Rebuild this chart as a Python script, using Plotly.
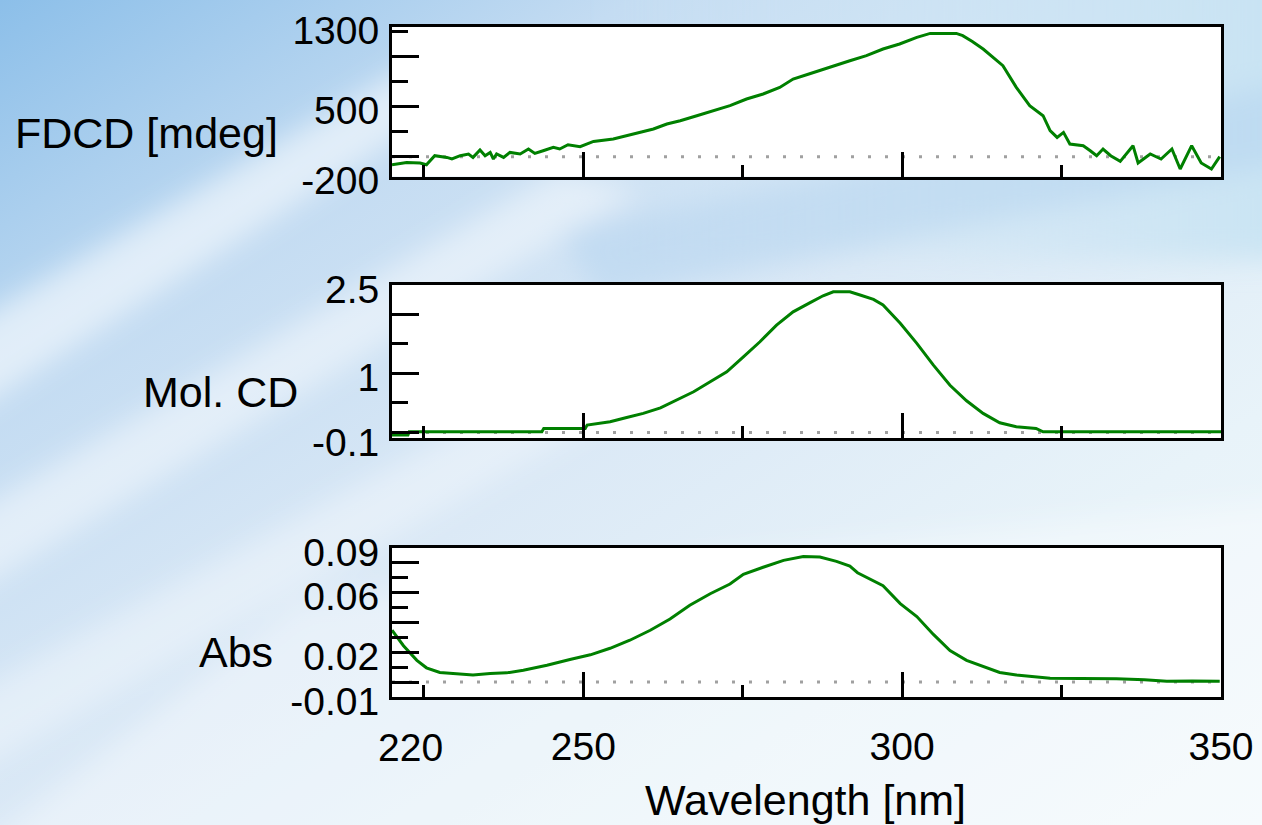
import base64
import plotly.graph_objects as go

# ---------------- data ----------------
fdcd_wl = [220.0, 222.3, 224.4, 225.4, 226.7, 228.6, 229.4, 230.7, 232.0, 232.7,
           233.8, 234.6, 235.4, 235.9, 236.4, 237.5, 238.5, 240.1, 241.4, 242.4,
           243.7, 245.3, 246.3, 247.6, 249.5, 251.6, 254.7, 256.8, 258.9, 261.0,
           263.1, 265.2, 267.8, 270.4, 273.0, 275.6, 278.2, 280.8, 282.9, 285.5,
           288.5, 291.8, 294.4, 297.0, 299.6, 302.3, 304.4, 306.5, 308.5, 309.5,
           311.0, 312.7, 314.3, 315.8, 317.9, 320.0, 322.1, 323.2, 324.3, 325.3,
           326.3, 328.4, 329.5, 330.5, 331.5, 332.7, 334.2, 335.2, 336.2, 337.0,
           338.9, 340.6, 342.3, 343.6, 345.4, 346.9, 348.5, 349.8]
fdcd_val = [-80, -57, -63, -80, 10, -7, -23, 10, 27, -7,
            67, 10, 43, -23, 27, -7, 43, 27, 77, 33,
            60, 93, 77, 120, 100, 153, 177, 210, 243, 277,
            327, 360, 410, 460, 510, 577, 627, 693, 777, 830,
            895, 960, 1010, 1077, 1127, 1193, 1233, 1233, 1233, 1210,
            1153, 1077, 993, 910, 693, 510, 410, 260, 193, 243,
            127, 110, 60, 10, 77, 10, -47, 27, 110, -63,
            27, -23, 77, -123, 110, -63, -123, 0]

cd_wl = [220.0, 222.5, 222.7, 243.5, 243.8, 250.3, 250.6, 254.2, 256.8, 259.4,
         262.1, 264.7, 267.3, 269.9, 272.5, 275.1, 277.7, 280.3, 282.9, 285.5,
         287.6, 289.2, 291.8, 293.4, 295.5, 297.0, 299.7, 302.3, 304.9, 307.5,
         310.1, 312.7, 315.3, 317.9, 321.0, 322.1, 350.0]
cd_val = [-0.046, -0.046, 0.01, 0.01, 0.068, 0.068, 0.124, 0.18, 0.254, 0.322,
          0.417, 0.548, 0.689, 0.858, 1.028, 1.282, 1.537, 1.82, 2.045, 2.198,
          2.317, 2.385, 2.385, 2.33, 2.255, 2.16, 1.85, 1.51, 1.14, 0.80,
          0.536, 0.322, 0.163, 0.095, 0.068, 0.01, 0.01]

abs_wl = [220.0, 221.8, 223.9, 225.4, 227.5, 230.0, 232.7, 235.4, 238.0, 240.6,
          244.3, 247.9, 251.1, 254.2, 257.3, 260.5, 263.6, 266.7, 269.9, 273.0,
          275.1, 278.2, 281.4, 284.5, 287.1, 289.7, 291.8, 293.0, 297.0, 299.7,
          302.3, 304.9, 307.5, 310.1, 312.7, 315.3, 317.9, 320.5, 323.2, 328.0,
          333.6, 338.0, 341.5, 345.5, 349.8]
abs_val = [0.0348, 0.0244, 0.0146, 0.0096, 0.0065, 0.0055, 0.0048, 0.0057, 0.0062, 0.0080,
           0.0113, 0.0152, 0.0183, 0.0227, 0.0281, 0.0348, 0.0423, 0.0516, 0.0593, 0.0658,
           0.0724, 0.0771, 0.0817, 0.0843, 0.0839, 0.0810, 0.0778, 0.0734, 0.0647, 0.0527,
           0.0440, 0.0320, 0.0211, 0.0146, 0.0103, 0.0065, 0.0048, 0.0035, 0.0026, 0.0024,
           0.0022, 0.0015, 0.0005, 0.0008, 0.0005]

x_range = [220, 350]
x_major = [250, 300]
x_minor = [225, 275, 325]
x_labels = ["220", "250", "300", "350"]

y1_range = [-200, 1300]
y1_major = [-200, 0, 500, 1000, 1300]
y1_text = ["-200", "", "500", "", "1300"]
y1_minor = [250, 750, 1250]

y2_range = [-0.1, 2.5]
y2_major = [-0.1, 0, 1, 2, 2.5]
y2_text = ["-0.1", "", "1", "", "2.5"]
y2_minor = [0.5, 1.5]

y3_range = [-0.01, 0.09]
y3_major = [-0.01, 0, 0.02, 0.04, 0.06, 0.08, 0.09]
y3_text = ["-0.01", "", "0.02", "", "0.06", "", "0.09"]
y3_minor = [0.01, 0.03, 0.05, 0.07]

titles = ["FDCD [mdeg]", "Mol. CD", "Abs"]
x_title = "Wavelength [nm]"

# ---------------- styling ----------------
W, H = 1262, 825
FONT = "Liberation Sans, Arial, sans-serif"
FS = 39
FS_T = 43
GREEN = "#008000"

xdom = [392 / W, 1221 / W]
ydoms = [[1 - 176.7 / H, 1 - 26.7 / H],
         [1 - 438.3 / H, 1 - 285.0 / H],
         [1 - 697.0 / H, 1 - 548.0 / H]]

bg_svg = """<svg xmlns="http://www.w3.org/2000/svg" width="1262" height="825" viewBox="0 0 1262 825" preserveAspectRatio="none">
<defs>
<linearGradient id="g" x1="0" y1="0" x2="1" y2="1">
<stop offset="0" stop-color="#8cbfe9"/>
<stop offset="0.25" stop-color="#c4dcf2"/>
<stop offset="0.5" stop-color="#dbe9f6"/>
<stop offset="0.75" stop-color="#e8f3f9"/>
<stop offset="1" stop-color="#f1f8fc"/>
</linearGradient>
<linearGradient id="t" x1="0" y1="0" x2="1" y2="0">
<stop offset="0" stop-color="#cfe6f5" stop-opacity="0"/>
<stop offset="1" stop-color="#c2e1f2" stop-opacity="0.8"/>
</linearGradient>
<filter id="b" x="-20%" y="-20%" width="140%" height="140%"><feGaussianBlur stdDeviation="14"/></filter>
</defs>
<rect width="1262" height="825" fill="url(#g)"/>
<g filter="url(#b)">
<rect x="600" y="-40" width="700" height="300" fill="url(#t)"/>
<polygon points="-40,330 420,60 520,60 -40,420" fill="white" opacity="0.55"/>
<polygon points="-40,520 560,170 640,190 -40,600" fill="white" opacity="0.45"/>
<polygon points="-40,700 700,300 760,330 -40,780" fill="white" opacity="0.35"/>
<polygon points="560,230 1300,80 1300,160 600,300" fill="#b4d4ef" opacity="0.5"/>
<polygon points="-40,865 300,600 1300,500 1300,865" fill="white" opacity="0.35"/>
</g>
</svg>"""
bg_uri = "data:image/svg+xml;base64," + base64.b64encode(bg_svg.encode()).decode()

fig = go.Figure()
for i, (xs, ys) in enumerate([(fdcd_wl, fdcd_val), (cd_wl, cd_val), (abs_wl, abs_val)]):
    sfx = "" if i == 0 else str(i + 1)
    fig.add_trace(go.Scatter(x=xs, y=ys, mode="lines", xaxis="x" + sfx, yaxis="y" + sfx,
                             line=dict(color=GREEN, width=3), showlegend=False,
                             hoverinfo="skip"))

def xaxis_cfg(anchor, labels):
    d = dict(anchor=anchor, domain=xdom, range=x_range, showline=True, mirror=True,
             linecolor="black", linewidth=3, ticks="inside", ticklen=25, tickwidth=3,
             tickcolor="black", showgrid=False, zeroline=False, automargin=False,
             minor=dict(tickvals=x_minor, ticks="inside", ticklen=12, tickwidth=3,
                        tickcolor="black", showgrid=False))
    if labels:
        d.update(tickvals=[220] + x_major + [350],
                 ticktext=[""] + x_labels[1:],
                 showticklabels=True, ticklabelstandoff=13,
                 tickfont=dict(family=FONT, size=FS, color="black"))
    else:
        d.update(tickvals=x_major, showticklabels=False)
    return d

def yaxis_cfg(anchor, dom, rng, major, text, minor):
    return dict(anchor=anchor, domain=dom, range=rng, showline=True, mirror=True,
                linecolor="black", linewidth=3, ticks="inside", ticklen=27, tickwidth=3,
                tickcolor="black", showgrid=False, zeroline=False, automargin=False,
                tickvals=major, ticktext=text, ticklabelstandoff=2, ticklabelshift=4,
                tickfont=dict(family=FONT, size=FS, color="black"),
                minor=dict(tickvals=minor, ticks="inside", ticklen=16, tickwidth=3,
                           tickcolor="black", showgrid=False))

shapes = []
for i in range(3):
    sfx = "" if i == 0 else str(i + 1)
    shapes.append(dict(type="rect", xref="x" + sfx + " domain", yref="y" + sfx + " domain",
                       x0=0, x1=1, y0=0, y1=1, fillcolor="white", line=dict(width=0),
                       layer="below"))
for i in range(3):
    sfx = "" if i == 0 else str(i + 1)
    shapes.append(dict(type="line", xref="x" + sfx + " domain", yref="y" + sfx,
                       x0=0, x1=1, y0=0, y1=0, layer="below",
                       line=dict(color="#a0a0a0", width=3, dash="3px,14px")))

annotations = [
    dict(text=titles[0], x=280 / W, y=1 - 133 / H, xanchor="right", yanchor="middle", size=FS_T),
    dict(text=titles[1], x=300 / W, y=1 - 392 / H, xanchor="right", yanchor="middle", size=FS_T),
    dict(text=titles[2], x=275 / W, y=1 - 652 / H, xanchor="right", yanchor="middle", size=FS_T),
    dict(text=x_labels[0], x=410 / W, y=1 - 747 / H, xanchor="center", yanchor="middle", size=FS),
    dict(text=x_title, x=806 / W, y=1 - 800 / H, xanchor="center", yanchor="middle", size=FS_T),
]
for a in annotations:
    sz = a.pop("size")
    a.update(xref="paper", yref="paper", showarrow=False,
             font=dict(family=FONT, size=sz, color="black"))

fig.update_layout(
    width=W, height=H, autosize=False,
    margin=dict(l=0, r=0, t=0, b=0, pad=0, autoexpand=False),
    paper_bgcolor="#dbe9f6", plot_bgcolor="white",
    xaxis=xaxis_cfg("y", False),
    xaxis2=xaxis_cfg("y2", False),
    xaxis3=xaxis_cfg("y3", True),
    yaxis=yaxis_cfg("x", ydoms[0], y1_range, y1_major, y1_text, y1_minor),
    yaxis2=yaxis_cfg("x2", ydoms[1], y2_range, y2_major, y2_text, y2_minor),
    yaxis3=yaxis_cfg("x3", ydoms[2], y3_range, y3_major, y3_text, y3_minor),
    shapes=shapes, annotations=annotations,
    images=[dict(source=bg_uri, xref="paper", yref="paper", x=0, y=1, sizex=1, sizey=1,
                 xanchor="left", yanchor="top", sizing="stretch", layer="below")],
)

fig.write_html("out.html", config={"displayModeBar": False},
               post_script="document.body.style.margin='0';document.body.style.overflow='hidden';")
